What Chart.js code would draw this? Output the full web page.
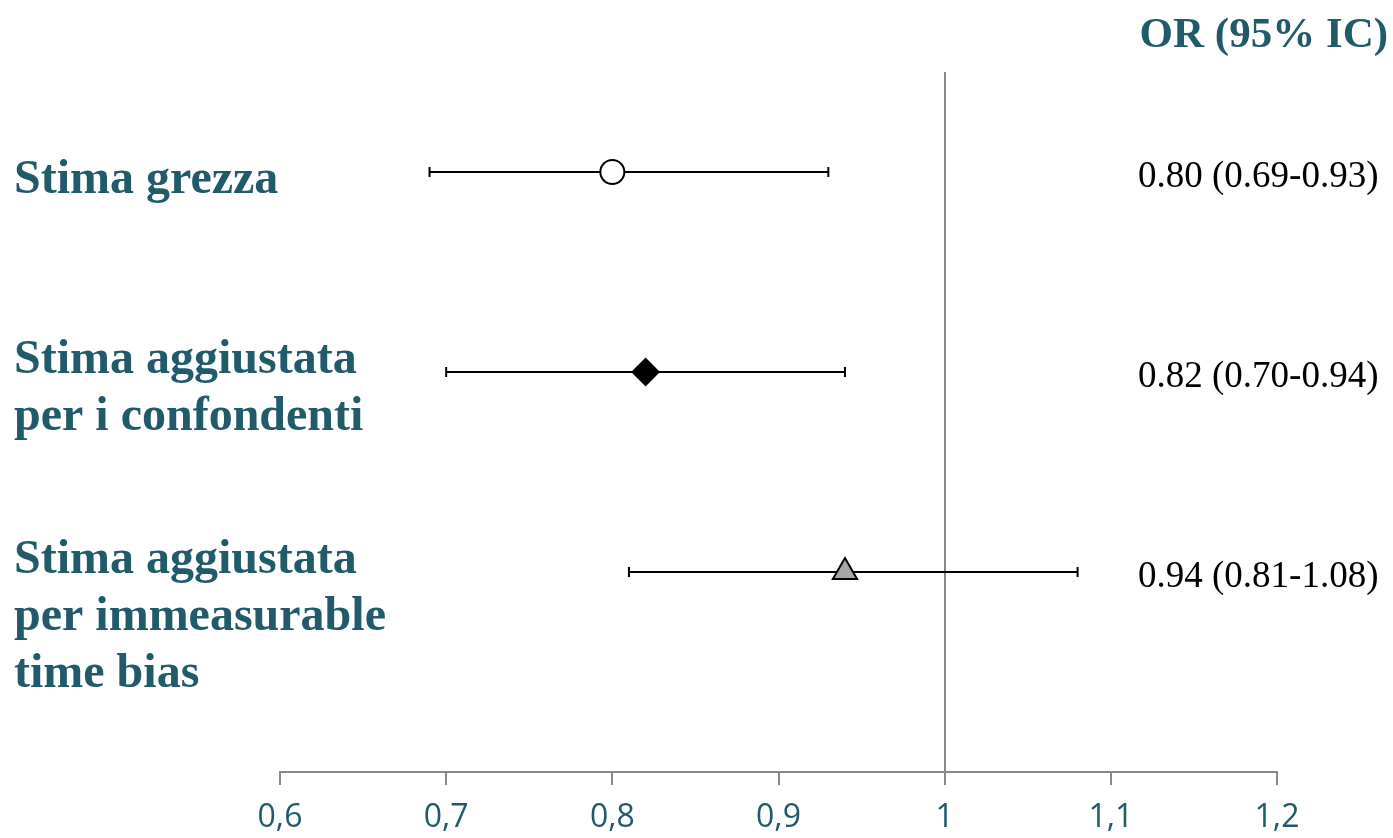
<!DOCTYPE html>
<html>
<head>
<meta charset="utf-8">
<script src="https://cdn.jsdelivr.net/npm/chart.js@4"></script>
<style>
  html, body { margin: 0; padding: 0; background: #fff; }
  #wrap { width: 1393px; height: 838px; }
</style>
</head>
<body>
<div id="wrap"><canvas id="forest"></canvas></div>
<script>
const rowLabels = [
  ['Stima grezza'],
  ['Stima aggiustata', 'per i confondenti'],
  ['Stima aggiustata', 'per immeasurable', 'time bias']
];
const rowPos = [3, 2, 1];
const oddsRatio = [0.80, 0.82, 0.94];
const lowerCI = [0.69, 0.70, 0.81];
const upperCI = [0.93, 0.94, 1.08];
const rightText = ['0.80 (0.69-0.93)', '0.82 (0.70-0.94)', '0.94 (0.81-1.08)'];
const headerText = 'OR (95% IC)';
const tickValues = [0.6, 0.7, 0.8, 0.9, 1.0, 1.1, 1.2];

const teal = '#215B6A';

// error bars, row labels and right column of estimates
const forestPlugin = {
  id: 'forest',
  beforeDatasetsDraw(chart) {
    const { ctx, scales: { x, y } } = chart;
    ctx.save();
    ctx.strokeStyle = '#000';
    ctx.lineWidth = 2;
    for (let i = 0; i < oddsRatio.length; i++) {
      const py = Math.round(y.getPixelForValue(rowPos[i]));
      const x1 = x.getPixelForValue(lowerCI[i]);
      const x2 = x.getPixelForValue(upperCI[i]);
      ctx.beginPath();
      ctx.moveTo(x1, py); ctx.lineTo(x2, py);
      ctx.moveTo(x1, py - 5); ctx.lineTo(x1, py + 5);
      ctx.moveTo(x2, py - 5); ctx.lineTo(x2, py + 5);
      ctx.stroke();
    }
    ctx.restore();
  },
  afterDraw(chart) {
    const { ctx, scales: { y } } = chart;
    ctx.save();
    ctx.textBaseline = 'alphabetic';
    // left labels
    ctx.fillStyle = teal;
    ctx.font = 'bold 48px "Liberation Serif", "Times New Roman", serif';
    ctx.textAlign = 'left';
    rowLabels.forEach((lines, i) => {
      const py = y.getPixelForValue(rowPos[i]);
      const first = lines.length === 1 ? py + 21 : py + 1;
      lines.forEach((t, j) => ctx.fillText(t, 14, first + j * 57));
    });
    // header
    ctx.font = 'bold 43px "Liberation Serif", "Times New Roman", serif';
    ctx.textAlign = 'right';
    ctx.fillText(headerText, 1388, 47);
    // right estimates
    ctx.fillStyle = '#000';
    ctx.font = '37px "Liberation Serif", "Times New Roman", serif';
    ctx.textAlign = 'left';
    rightText.forEach((t, i) => {
      ctx.fillText(t, 1138, y.getPixelForValue(rowPos[i]) + 15);
    });
    ctx.restore();
  }
};

new Chart(document.getElementById('forest'), {
  type: 'scatter',
  data: {
    datasets: [{
      data: oddsRatio.map((v, i) => ({ x: v, y: rowPos[i] })),
      pointStyle: ['circle', 'rectRot', 'triangle'],
      pointRadius: [12, 13, 14],
      pointBackgroundColor: ['#ffffff', '#000000', '#A6A6A6'],
      pointBorderColor: '#000',
      pointBorderWidth: 2,
      pointHoverRadius: [12, 13, 14]
    }]
  },
  options: {
    responsive: true,
    maintainAspectRatio: false,
    animation: false,
    layout: { padding: { left: 280, right: 116, top: 72, bottom: 0 } },
    plugins: { legend: { display: false }, tooltip: { enabled: false } },
    scales: {
      x: {
        type: 'linear',
        min: 0.6,
        max: 1.2,
        afterBuildTicks: (s) => { s.ticks = tickValues.map(v => ({ value: v })); },
        afterFit: (s) => { s.height = 66; },
        border: { color: '#888', width: 2 },
        grid: {
          color: (c) => (c.tick && Math.abs(c.tick.value - 1) < 1e-9 ? '#888' : 'rgba(0,0,0,0)'),
          lineWidth: 2,
          tickColor: '#888',
          tickLength: 13,
          tickWidth: 2
        },
        ticks: {
          color: teal,
          padding: 14,
          font: { family: '"Open Sans", sans-serif', size: 32 },
          callback: (v) => (Math.round(v * 10) / 10 === 1 ? '1' : v.toFixed(1).replace('.', ','))
        }
      },
      y: {
        type: 'linear',
        min: 0,
        max: 3.5,
        display: false
      }
    }
  },
  plugins: [forestPlugin]
});
</script>
</body>
</html>
